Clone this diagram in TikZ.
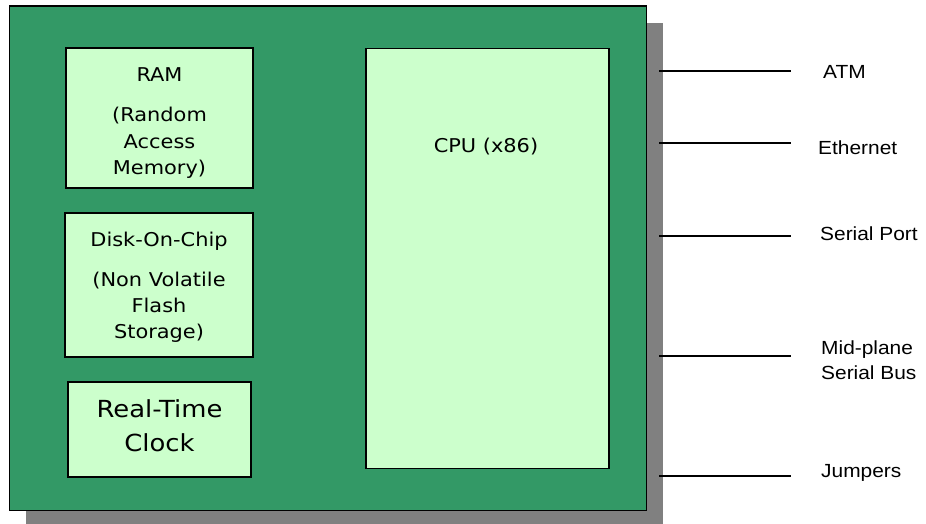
\documentclass[tikz,border=0pt]{standalone}
\usepackage{fontspec}
\newfontfamily\bxfont[FakeStretch=1.1]{DejaVu Sans}
\newfontfamily\lbfont[FakeStretch=1.1]{Liberation Sans}
\definecolor{boardgreen}{HTML}{339966}
\definecolor{chipgreen}{HTML}{CCFFCC}
\definecolor{shadowgray}{HTML}{808080}
\begin{document}
\begin{tikzpicture}[x=1pt,y=-1pt,
  chip/.style={draw=black,line width=1.8pt,fill=chipgreen},
  chiptext/.style={anchor=base,inner sep=0pt,font=\bxfont\fontsize{19}{26}\selectfont},
  bigtext/.style={anchor=base,inner sep=0pt,font=\bxfont\fontsize{23.5}{34}\selectfont},
  sidetext/.style={anchor=base west,inner sep=0pt,font=\lbfont\fontsize{19}{25}\selectfont},
  wire/.style={draw=black,line width=1.4pt}]
\useasboundingbox (0,0) rectangle (926,524);
% shadow and board
\fill[shadowgray] (26,23) rectangle (663,524);
\draw[fill=boardgreen,draw=black,line width=1.5pt] (9.5,6) rectangle (646.5,510.5);
% chips
\node[chip,minimum width=187pt,minimum height=140pt,inner sep=0pt] (ram) at (159.5,118) {};
\node[chip,minimum width=188pt,minimum height=144pt,inner sep=0pt] (doc) at (159,285) {};
\node[chip,minimum width=183pt,minimum height=95pt,inner sep=0pt] (rtc) at (159.5,429.5) {};
\node[chip,minimum width=243pt,minimum height=420pt,inner sep=0pt] (cpu) at (487.5,258.5) {};
% chip texts
\node[chiptext] (ram1) at (159.5,82) {RAM};
\node[chiptext] (ram2) at (159.5,122) {(Random};
\node[chiptext] (ram3) at (159.5,148) {Access};
\node[chiptext] (ram4) at (159.5,174) {Memory)};
\node[chiptext] (doc1) at (159,246) {Disk-On-Chip};
\node[chiptext] (doc2) at (159,286) {(Non Volatile};
\node[chiptext] (doc3) at (159,312) {Flash};
\node[chiptext] (doc4) at (159,338) {Storage)};
\node[bigtext] (rtc1) at (159.5,417) {Real-Time};
\node[bigtext] (rtc2) at (159.5,451) {Clock};
\node[chiptext] (cpu1) at (486,153) {CPU (x86)};
% interfaces
\node[sidetext] (atm) at (823,79) {ATM};
\node[sidetext] (eth) at (818,154) {Ethernet};
\node[sidetext] (ser) at (820,240) {Serial Port};
\node[sidetext] (mid1) at (821,354) {Mid-plane};
\node[sidetext] (mid2) at (821,379) {Serial Bus};
\node[sidetext] (jmp) at (821,477) {Jumpers};
\foreach \n/\y in {a/71,b/143,c/236,d/356,e/476}{
  \coordinate (s\n) at (659,\y);
  \coordinate (t\n) at (791,\y);
  \draw[wire] (s\n) -- (t\n);
}
\end{tikzpicture}
\end{document}
